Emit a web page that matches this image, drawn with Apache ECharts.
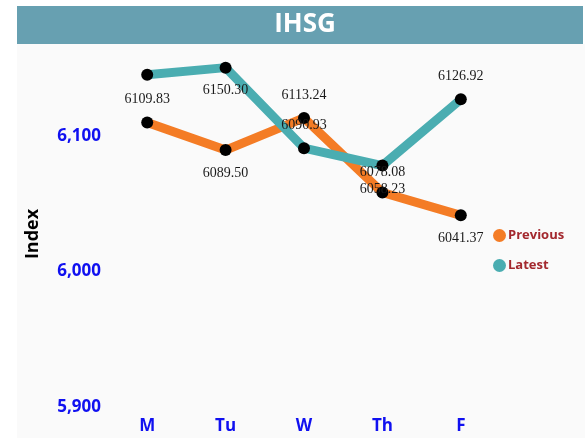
<!DOCTYPE html>
<html>
<head>
<meta charset="utf-8">
<script src="https://cdn.jsdelivr.net/npm/echarts@6/dist/echarts.min.js"></script>
<style>
  html, body { margin: 0; padding: 0; background: #ffffff; }
  #chart { width: 585px; height: 438px; }
</style>
</head>
<body>
<div id="chart"></div>
<script>
// data
const days = ["M", "Tu", "W", "Th", "F"];
const previous = [6109.83, 6089.50, 6113.24, 6058.23, 6041.37];
const latest = [6145.0, 6150.30, 6090.93, 6078.08, 6126.92];
const yTicks = [5900, 6000, 6100];

const prevColor = "#f47c25";
const latestColor = "#4aadb1";

// label placement per point
const prevLabelPos = ["top", "bottom", "top", "inside", "bottom"];
const latestLabelPos = [null, "bottom", "top", "inside", "top"];

function withLabels(values, positions, offsets) {
  return values.map((v, i) => {
    const pos = positions[i];
    if (!pos) return { value: v, label: { show: false } };
    const lbl = { show: true, position: pos, distance: 10 };
    if (offsets[i]) lbl.offset = offsets[i];
    return { value: v, label: lbl };
  });
}

const chart = echarts.init(document.getElementById("chart"));
const option = {
  animation: false,
  backgroundColor: "#ffffff",
  graphic: [
    {
      type: "rect",
      z: -10,
      shape: { x: 17, y: 44, width: 568, height: 394 },
      style: { fill: "#fafafa" }
    },
    {
      type: "rect",
      z: -10,
      shape: { x: 17, y: 6, width: 566, height: 38 },
      style: { fill: "#67a0b1" }
    }
  ],
  title: {
    text: "IHSG",
    left: 300,
    textAlign: "center",
    top: 7,
    textStyle: {
      color: "#ffffff",
      fontSize: 26,
      fontWeight: "bold",
      fontFamily: "Open Sans"
    }
  },
  legend: {
    orient: "vertical",
    left: 488,
    top: 224,
    itemGap: 17,
    icon: "circle",
    itemWidth: 13,
    itemHeight: 13,
    data: [
      { name: "Previous", itemStyle: { color: prevColor } },
      { name: "Latest", itemStyle: { color: latestColor } }
    ],
    textStyle: {
      color: "#a3282e",
      fontWeight: "bold",
      fontSize: 13,
      fontFamily: "Open Sans",
      padding: [0, 0, 0, -3]
    }
  },
  grid: { left: 108, right: 85, top: 45, bottom: 31 },
  xAxis: {
    type: "category",
    data: days,
    axisLine: { show: false },
    axisTick: { show: false },
    splitLine: { show: false },
    axisLabel: {
      color: "#1010f0",
      fontWeight: "bold",
      fontSize: 17,
      fontFamily: "Open Sans",
      margin: 11
    }
  },
  yAxis: {
    type: "value",
    name: "Index",
    nameLocation: "middle",
    nameGap: 66,
    nameTextStyle: {
      color: "#000000",
      fontWeight: "bold",
      fontSize: 18,
      fontFamily: "Open Sans",
      padding: [0, 16, 0, 0]
    },
    min: yTicks[0],
    max: 6167,
    interval: 100,
    axisLine: { show: false },
    axisTick: { show: false },
    splitLine: { show: false },
    axisLabel: {
      showMaxLabel: false,
      color: "#1010f0",
      fontWeight: "bold",
      fontSize: 17,
      fontFamily: "Open Sans",
      margin: 7,
      formatter: v => v.toLocaleString("en-US")
    }
  },
  series: [
    {
      name: "Previous",
      type: "line",
      data: withLabels(previous, prevLabelPos, [null, null, null, [0, -3], null]),
      color: prevColor,
      lineStyle: { width: 9, color: prevColor },
      symbol: "circle",
      symbolSize: 12,
      itemStyle: { color: "#000000" },
      label: {
        color: "#1a1a1a",
        fontSize: 14,
        fontFamily: "Liberation Serif",
        formatter: p => p.value.toFixed(2)
      }
    },
    {
      name: "Latest",
      type: "line",
      data: withLabels(latest, latestLabelPos, [null, null, null, [0, 7], null]),
      color: latestColor,
      lineStyle: { width: 9, color: latestColor },
      symbol: "circle",
      symbolSize: 12,
      itemStyle: { color: "#000000" },
      label: {
        color: "#1a1a1a",
        fontSize: 14,
        fontFamily: "Liberation Serif",
        formatter: p => p.value.toFixed(2)
      }
    }
  ]
};
chart.setOption(option);
</script>
</body>
</html>
